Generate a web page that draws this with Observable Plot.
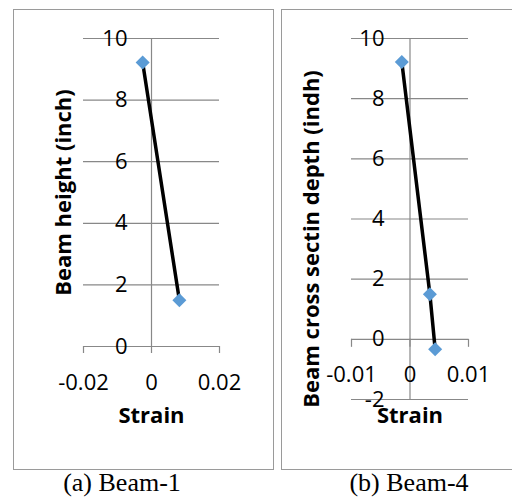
<!DOCTYPE html>
<html>
<head>
<meta charset="utf-8">
<script src="https://cdn.jsdelivr.net/npm/d3@7"></script>
<script src="https://cdn.jsdelivr.net/npm/@observablehq/plot@0.6"></script>
<style>
  html, body { margin: 0; padding: 0; background: #fff; }
  #page { position: relative; width: 512px; height: 498px; overflow: hidden; background: #fff; }
  .box { position: absolute; border: 1.5px solid #9a9a9a; box-sizing: border-box; }
  .chart { position: absolute; }
  .cap { position: absolute; font-family: "Liberation Serif", "Times New Roman", serif; font-size: 26px; line-height: 26px; white-space: nowrap; transform: translateX(-50%); color: #000; }
</style>
</head>
<body>
<div id="page">
  <div class="box" style="left:13px; top:9px; width:261px; height:461px;"></div>
  <div class="box" style="left:281px; top:9px; width:240px; height:461px;"></div>
  <div class="chart" id="c1" style="left:13px; top:9px;"></div>
  <div class="chart" id="c2" style="left:281px; top:9px;"></div>
  <div class="cap" style="left:122px; top:470px;">(a) Beam-1</div>
  <div class="cap" style="left:409px; top:470px;">(b) Beam-4</div>
</div>
<script>
// ---- data ----
const beam1Strain = [-0.0026, 0.0082];
const beam1Height = [9.22, 1.5];
const beam4Strain = [-0.0014, 0.0034, 0.0043];
const beam4Depth  = [9.22, 1.5, -0.33];

const beam1XTicks = [-0.02, 0, 0.02];
const beam1XTickLabels = ["-0.02", "0", "0.02"];
const beam1YTicks = [0, 2, 4, 6, 8, 10];
const beam4XTicks = [-0.01, 0, 0.01];
const beam4XTickLabels = ["-0.01", "0", "0.01"];
const beam4YTicks = [-2, 0, 2, 4, 6, 8, 10];

const yTitle1 = "Beam height (inch)";
const yTitle4 = "Beam cross sectin depth (indh)";
const xTitle = "Strain";

const GRID = "#888888";
const BLUE = "#5B9BD5";

function panel({strain, height, xTicks, xLabels, yTicks, yTitle, width, h, margins, yDx, yDy, titleDy, labelDx, tickPx}) {
  const xDomain = [d3.min(xTicks), d3.max(xTicks)];
  const yDomain = [d3.min(yTicks), d3.max(yTicks)];
  const plotH = h - margins.top - margins.bottom;
  const pxPerUnit = plotH / (yDomain[1] - yDomain[0]);
  const tickLen = tickPx / pxPerUnit;
  const pts = strain.map((s, i) => ({s, v: height[i]}));
  return Plot.plot({
    width, height: h,
    marginLeft: margins.left, marginRight: margins.right,
    marginTop: margins.top, marginBottom: margins.bottom,
    x: {domain: xDomain, axis: null},
    y: {domain: yDomain, axis: null},
    style: {fontFamily: "'Open Sans', sans-serif", fontSize: "22px", background: "transparent", overflow: "visible"},
    marks: [
      Plot.ruleY(yTicks, {y: d => d, x1: xDomain[0], x2: xDomain[1], stroke: GRID, strokeWidth: 1.2}),
      Plot.ruleX([0], {x: d => d, y1: yDomain[0], y2: yDomain[1], stroke: GRID, strokeWidth: 1.2}),
      Plot.ruleX(xTicks, {x: d => d, y1: 0, y2: -tickLen, stroke: GRID, strokeWidth: 1.2}),
      Plot.line(pts, {x: "s", y: "v", stroke: "#000", strokeWidth: 3.5}),
      Plot.dot(pts, {x: "s", y: "v", symbol: "square", r: 5.6, rotate: 45, fill: BLUE, stroke: "none"}),
      Plot.text(yTicks, {y: d => d, text: d => String(d), frameAnchor: "left", textAnchor: "end", dx: labelDx, fill: "#000", fontSize: 22}),
      Plot.text(xTicks, {x: d => d, y: () => 0, text: (d, i) => xLabels[i], dy: 36, fill: "#000", fontSize: 22}),
      Plot.text([xTitle], {x: () => 0, text: d => d, frameAnchor: "bottom", dy: titleDy, fontWeight: "bold", fill: "#000", fontSize: 22}),
      Plot.text([yTitle], {text: d => d, frameAnchor: "left", textAnchor: "middle", lineAnchor: "middle", rotate: -90, dx: yDx, dy: yDy, fontWeight: "bold", fill: "#000", fontSize: 22})
    ]
  });
}

document.getElementById("c1").append(panel({
  strain: beam1Strain, height: beam1Height, xTicks: beam1XTicks, xLabels: beam1XTickLabels, yTicks: beam1YTicks,
  yTitle: yTitle1, width: 260, h: 460, margins: {left: 70, right: 54, top: 29, bottom: 123},
  yDx: -20, yDy: 0, titleDy: 76, labelDx: 44, tickPx: 7
}));
document.getElementById("c2").append(panel({
  strain: beam4Strain, height: beam4Depth, xTicks: beam4XTicks, xLabels: beam4XTickLabels, yTicks: beam4YTicks,
  yTitle: yTitle4, width: 231, h: 460, margins: {left: 70, right: 44, top: 29, bottom: 70},
  yDx: -40, yDy: 20, titleDy: 23, labelDx: 33, tickPx: 8
}));
</script>
</body>
</html>
